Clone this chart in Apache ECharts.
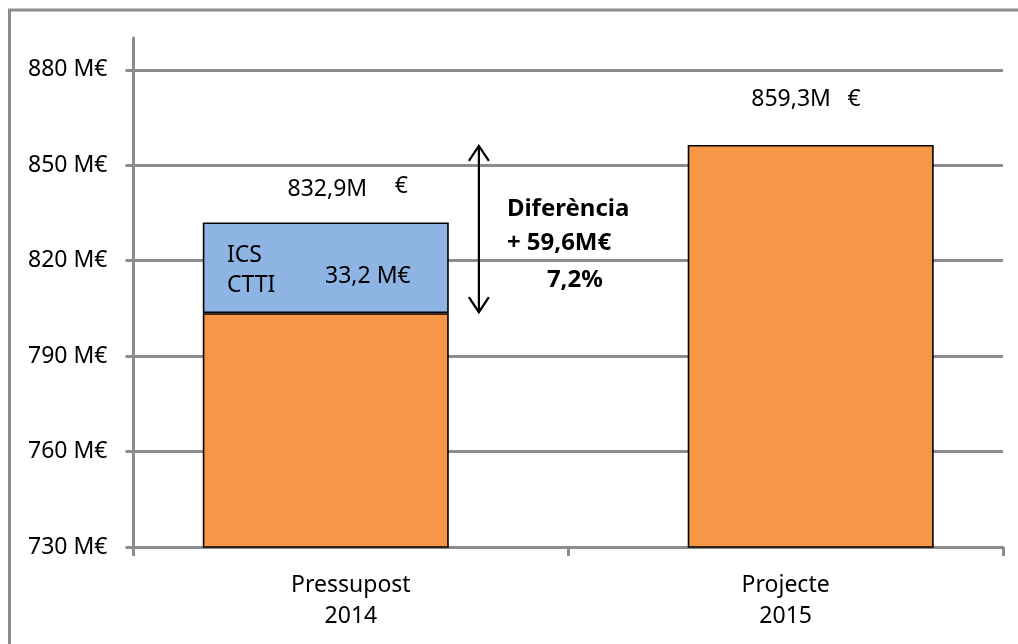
<!DOCTYPE html>
<html><head><meta charset="utf-8">
<script src="https://cdn.jsdelivr.net/npm/echarts@6/dist/echarts.min.js"></script>
<style>html,body{margin:0;padding:0;background:#fff}#c{width:1018px;height:644px}</style>
</head><body><div id="c"></div>
<script>
const categories = ['Pressupost\n2014', 'Projecte\n2015'];
const base2014 = [803.5, '-'];
const extra2014 = [28.5, '-'];      // ICS + CTTI
const proj2015 = ['-', 856.4];
const yMin = 730, yMax = 890, yStep = 30;
const totalLabels = ['832,9M', '859,3M'];
const totalUnit = '€';
const totalValues = [832, 856.4];
const extraName = 'ICS\nCTTI';
const extraValue = '33,2 M€';
const diffLines = ['Diferència', '+ 59,6M€', '7,2%'];

const FONT = 'Noto Sans';
const GRID = '#8c8c8c';
const chart = echarts.init(document.getElementById('c'), null, {renderer: 'canvas'});
const barStyle = c => ({color: c, borderColor: '#000', borderWidth: 1.6});

chart.setOption({
  animation: false,
  backgroundColor: '#fff',
  grid: {left: 133.5, right: 15, top: 38, bottom: 97},
  xAxis: {
    type: 'category', data: categories,
    axisLine: {lineStyle: {color: GRID, width: 3}},
    axisTick: {show: true, length: 9, lineStyle: {color: GRID, width: 3}},
    axisLabel: {color: '#000', fontFamily: FONT, fontSize: 23, lineHeight: 31, margin: 23}
  },
  yAxis: {
    type: 'value', min: yMin, max: yMax, interval: yStep,
    axisLine: {show: true, lineStyle: {color: GRID, width: 3}},
    axisTick: {show: true, length: 8, lineStyle: {color: GRID, width: 3}},
    axisLabel: {color: '#000', fontFamily: FONT, fontSize: 23, margin: 26, showMaxLabel: false,
      formatter: v => v + ' M€'},
    splitLine: {show: true, showMaxLine: false, lineStyle: {color: GRID, width: 3}}
  },
  series: [
    {type: 'bar', stack: 'a', data: base2014, barWidth: 246, barGap: '-79.6%', itemStyle: barStyle('#F79646')},
    {type: 'bar', stack: 'a', data: extra2014, barWidth: 246, barGap: '-79.6%', itemStyle: barStyle('#8EB4E3')},
    {type: 'bar', stack: 'b', data: proj2015, barWidth: 246, barGap: '-79.6%', itemStyle: barStyle('#F79646')}
  ]
});

const p = (c, v) => chart.convertToPixel({gridIndex: 0}, [c, v]);
const txt = (x, y, text, opt = {}) => ({
  type: 'text', x, y, z: 100,
  style: Object.assign({text, fill: '#000', font: `${opt.bold ? 'bold ' : ''}${opt.size || 23}px "${FONT}"`,
    align: opt.align || 'center', verticalAlign: 'middle', lineHeight: opt.lh || 30}, opt.style || {})
});

const c0 = p(0, yMin)[0], c1 = p(1, yMin)[0];
const yTop1 = p(0, totalValues[0])[1];
const yTop2 = p(1, totalValues[1])[1];
const yBase1 = p(0, base2014[0])[1];
const arrowX = c0 + 128;
const arrowStyle = {stroke: '#000', lineWidth: 2.2, fill: 'none'};

const elements = [
  {type: 'rect', shape: {x: 9.5, y: 10, width: 1040, height: 680}, style: {fill: 'none', stroke: GRID, lineWidth: 3}, z: 100},
  txt(c0 - 23.5, yTop1 - 33, totalLabels[0]),
  txt(c0 + 50.5, yTop1 - 36, totalUnit),
  txt(c1 + 5.5, yTop2 - 45, totalLabels[1]),
  txt(c1 + 68.5, yTop2 - 45, totalUnit),
  txt(c0 - 124, (yTop1 + yBase1) / 2 + 3, extraName, {align: 'left', lh: 30}),
  txt(c0 + 17, (yTop1 + yBase1) / 2 + 9, extraValue),
  txt(c0 + 156, yTop2 + 64, diffLines[0], {bold: true, size: 24, align: 'left'}),
  txt(c0 + 156, yTop2 + 98, diffLines[1], {bold: true, size: 24, align: 'left'}),
  txt(c0 + 196, yTop2 + 135, diffLines[2], {bold: true, size: 24, align: 'left'}),
  {type: 'polyline', z: 100, shape: {points: [[arrowX, yTop2 + 1], [arrowX, yBase1 - 1]]}, style: arrowStyle},
  {type: 'polyline', z: 100, shape: {points: [[arrowX - 10, yTop2 + 16], [arrowX, yTop2 + 1], [arrowX + 10, yTop2 + 16]]}, style: arrowStyle},
  {type: 'polyline', z: 100, shape: {points: [[arrowX - 10, yBase1 - 16], [arrowX, yBase1 - 1], [arrowX + 10, yBase1 - 16]]}, style: arrowStyle}
];
chart.setOption({graphic: {elements}});
</script>
</body></html>
